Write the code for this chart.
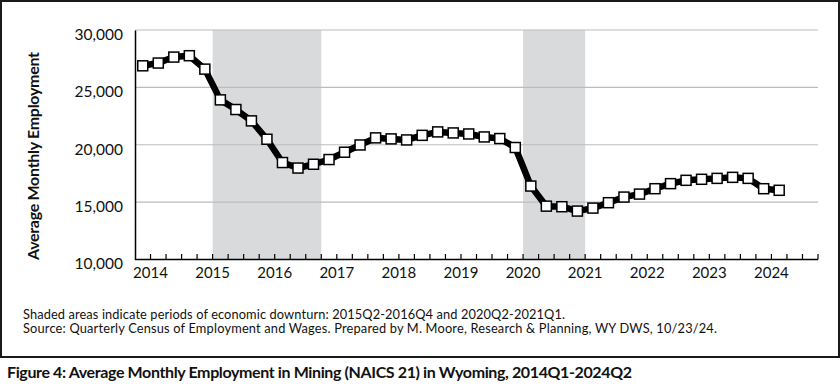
<!DOCTYPE html>
<html>
<head>
<meta charset="utf-8">
<script src="https://cdn.jsdelivr.net/npm/d3@7"></script>
<style>
  html, body { margin: 0; padding: 0; background: #fff; }
  svg { display: block; font-family: Lato, "Open Sans", sans-serif; }
</style>
</head>
<body>
<div id="chart"></div>
<script>
// values (2014Q1 - 2024Q2)
const years = [2014, 2015, 2016, 2017, 2018, 2019, 2020, 2021, 2022, 2023, 2024];
const quarters = ["Q1", "Q2", "Q3", "Q4"];
const employment = [
  26880, 27120, 27640, 27760, 26590, 23910, 23070, 22080, 20480, 18450,
  17970, 18300, 18710, 19350, 19980, 20600, 20510, 20420, 20820, 21120,
  21030, 20940, 20680, 20540, 19760, 16400, 14650, 14600, 14220, 14480,
  14950, 15440, 15700, 16170, 16610, 16900, 16990, 17070, 17160, 17070,
  16170, 16030,
];
const yTicks = [10000, 15000, 20000, 25000, 30000];
const downturns = [
  ["2015Q2", "2016Q4"],
  ["2020Q2", "2021Q1"],
];
const yTitle = "Average Monthly Employment";
const notes = [
  "Shaded areas indicate periods of economic downturn: 2015Q2-2016Q4 and 2020Q2-2021Q1.",
  "Source: Quarterly Census of Employment and Wages. Prepared by M. Moore, Research & Planning, WY DWS, 10/23/24.",
];
const caption = "Figure 4: Average Monthly Employment in Mining (NAICS 21) in Wyoming, 2014Q1-2024Q2";

const categories = years.flatMap((y) => quarters.map((q) => `${y}${q}`));
const points = employment.map((v, i) => ({ c: categories[i], v }));

const width = 840;
const height = 386;
const plot = { left: 135, right: 818, top: 30, bottom: 259.5 };

const svg = d3
  .select("#chart")
  .append("svg")
  .attr("width", width)
  .attr("height", height);

// frame around chart
svg
  .append("rect")
  .attr("x", 1)
  .attr("y", 1)
  .attr("width", 838)
  .attr("height", 356)
  .attr("fill", "none")
  .attr("stroke", "#1a1a1a")
  .attr("stroke-width", 2);

const x = d3
  .scaleBand()
  .domain(categories)
  .range([plot.left, plot.right])
  .padding(0);
const bw = x.bandwidth();

const y = d3
  .scaleLinear()
  .domain([10000, 30000])
  .range([plot.bottom, plot.top]);

// shaded downturns
svg
  .append("g")
  .selectAll("rect")
  .data(downturns)
  .join("rect")
  .attr("x", (d) => x(d[0]))
  .attr("y", plot.top)
  .attr("width", (d) => x(d[1]) + bw - x(d[0]))
  .attr("height", plot.bottom - plot.top)
  .attr("fill", "#d9dadc");

// gridlines
svg
  .append("g")
  .selectAll("line")
  .data(yTicks.slice(1))
  .join("line")
  .attr("x1", plot.left)
  .attr("x2", plot.right)
  .attr("y1", (d) => y(d))
  .attr("y2", (d) => y(d))
  .attr("stroke", "#bcbcbc")
  .attr("stroke-width", 1.2);

// y axis
const yAxis = svg
  .append("g")
  .attr("transform", `translate(${plot.left},0)`)
  .call(
    d3
      .axisLeft(y)
      .tickValues(yTicks)
      .tickSize(0)
      .tickPadding(12)
      .tickFormat(d3.format(",")),
  );
yAxis.select(".domain").attr("stroke", "#000").attr("stroke-width", 1.5);
yAxis
  .selectAll("text")
  .attr("dy", "0.6em")
  .style("font-family", "Lato, sans-serif")
  .style("font-size", "15.5px")
  .attr("fill", "#111");

// x axis: ticks on quarter boundaries, year labels
const xAxis = svg.append("g");
xAxis
  .append("line")
  .attr("x1", plot.left)
  .attr("x2", plot.right)
  .attr("y1", plot.bottom)
  .attr("y2", plot.bottom)
  .attr("stroke", "#000")
  .attr("stroke-width", 1.5);
xAxis
  .selectAll(".tick")
  .data(categories)
  .join("line")
  .attr("class", "tick")
  .attr("x1", (d) => x(d) + bw)
  .attr("x2", (d) => x(d) + bw)
  .attr("y1", plot.bottom)
  .attr("y2", plot.bottom - 5.5)
  .attr("stroke", "#000")
  .attr("stroke-width", 1.2);
xAxis
  .selectAll(".year")
  .data(years)
  .join("text")
  .attr("class", "year")
  .attr("x", (d) => x(`${d}Q2`))
  .attr("y", 277.5)
  .attr("text-anchor", "middle")
  .style("font-size", "15px")
  .attr("fill", "#111")
  .text((d) => d);

// y title
svg
  .append("text")
  .attr("transform", "translate(39,156) rotate(-90)")
  .attr("text-anchor", "middle")
  .attr("textLength", 208)
  .style("font-size", "16px")
  .style("font-weight", "bold")
  .attr("fill", "#111")
  .text(yTitle);

// series
const lineGen = d3
  .line()
  .x((d) => x(d.c) + bw / 2)
  .y((d) => y(d.v));

svg
  .append("path")
  .datum(points)
  .attr("d", lineGen)
  .attr("fill", "none")
  .attr("stroke", "#000")
  .attr("stroke-width", 6.5)
  .attr("stroke-linejoin", "round");

svg
  .append("g")
  .selectAll("rect")
  .data(points)
  .join("rect")
  .attr("x", (d) => x(d.c) + bw / 2 - 5)
  .attr("y", (d) => y(d.v) - 5)
  .attr("width", 10)
  .attr("height", 10)
  .attr("fill", "#fff")
  .attr("stroke", "#000")
  .attr("stroke-width", 1.5);

// notes
svg
  .append("g")
  .selectAll("text")
  .data(notes)
  .join("text")
  .attr("x", 23)
  .attr("y", (d, i) => [318.5, 333][i])
  .attr("textLength", (d, i) => [542, 694][i])
  .style("font-size", "12.8px")
  .attr("fill", "#111")
  .text((d) => d);

svg
  .append("text")
  .attr("x", 7)
  .attr("y", 378)
  .attr("textLength", 625)
  .style("font-size", "16px")
  .style("font-weight", "bold")
  .attr("fill", "#111")
  .text(caption);
</script>
</body>
</html>
